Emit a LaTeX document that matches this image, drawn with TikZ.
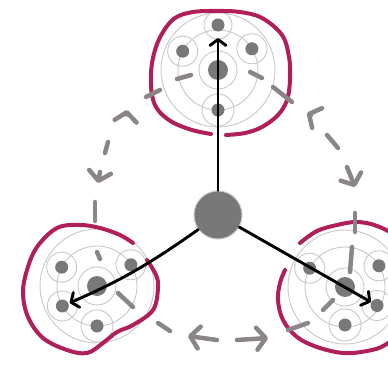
\documentclass[tikz,border=0pt]{standalone}
\usetikzlibrary{arrows.meta,calc}
\definecolor{BlobClr}{rgb}{0.69,0.12,0.35}
\definecolor{FlowClr}{rgb}{0.54,0.52,0.53}
\definecolor{RingClr}{rgb}{0.78,0.78,0.78}
\definecolor{DotClr}{rgb}{0.47,0.47,0.47}

\begin{document}
\begin{tikzpicture}[x=1pt,y=1pt,
  ring/.style={RingClr,line width=0.9pt},
  dot/.style={circle,fill=DotClr,inner sep=0pt,minimum size=13pt},
  core/.style={circle,fill=DotClr,inner sep=0pt,minimum size=20pt},
  hub/.style={circle,fill=DotClr,draw=RingClr,line width=1pt,inner sep=0pt,minimum size=48pt},
  blob/.style={BlobClr,line width=4pt,line cap=round,line join=round},
  flow/.style={FlowClr,line width=4.5pt,line cap=round},
  flowtip/.style={flow,-{Straight Barb[length=9pt,width=22pt,round]}},
  link/.style={line width=2.9pt,line cap=round,-{Straight Barb[length=6pt,width=16pt,round]}}]
\useasboundingbox (0,0) rectangle (388,372);

\coordinate (T) at (218,302);
\coordinate (L) at (97,86);
\coordinate (R) at (345,85);

\coordinate (T1) at ($(T)+(152:40)$);
\coordinate (T2) at ($(T)+(32:40)$);
\coordinate (T3) at ($(T)+(-90:40)$);
\coordinate (T4) at ($(T)+(90:45)$);
\coordinate (L1) at ($(L)+(152:40)$);
\coordinate (L2) at ($(L)+(32:40)$);
\coordinate (L3) at ($(L)+(-90:40)$);
\coordinate (L4) at ($(L)+(210:40)$);
\coordinate (R1) at ($(R)+(152:40)$);
\coordinate (R2) at ($(R)+(32:40)$);
\coordinate (R3) at ($(R)+(-90:38)$);
\coordinate (R4) at ($(R)+(330:37)$);

% rings
\draw[ring] (T) circle (57pt) (T) circle (40pt) (T) circle (19pt);
\draw[ring] (T1) circle (15pt) (T2) circle (15pt) (T3) circle (16pt) (T4) circle (14pt);
\draw[ring] (L) circle (57pt) (L) circle (40pt) (L) circle (19pt);
\draw[ring] (L1) circle (15pt) (L2) circle (15pt) (L3) circle (16pt) (L4) circle (15pt);
\draw[ring] (R) circle (57pt) (R) circle (40pt) (R) circle (19pt);
\draw[ring] (R1) circle (15pt) (R2) circle (15pt) (R3) circle (16pt) (R4) circle (15pt);

% dots
\node[core] at (T) {};
\node[core] at (L) {};
\node[core] at (R) {};
\node[dot] at (T1) {};
\node[dot] at (T2) {};
\node[dot] at (T3) {};
\node[dot] at (T4) {};
\node[dot] at (L1) {};
\node[dot] at (L2) {};
\node[dot] at (L3) {};
\node[dot] at (L4) {};
\node[dot] at (R1) {};
\node[dot] at (R2) {};
\node[dot] at (R3) {};
\node[dot] at (R4) {};

% outlines
\draw[blob] plot[smooth,tension=0.6] coordinates {(226,237) (245,239) (262,245) (278,257) (287,272) (290,292) (289,315) (282,337) (262,354) (240,360) (217,361) (193,360) (175,354) (163,340) (155,322) (151,300) (152,277) (158,262) (172,250) (192,242) (211,238)};
\draw[blob] plot[smooth,tension=0.6] coordinates {(147,112) (156,97) (158,84) (153,62) (133,47) (117,40) (103,29) (87,19) (67,22) (43,34) (28,55) (23,79) (27,102) (37,125) (57,144) (80,147) (100,144) (120,137) (133,129)};
\draw[blob] plot[smooth,tension=0.6] coordinates {(300,129) (317,141) (337,147) (357,150) (377,146) (395,135) (405,110) (406,75) (400,42) (385,27) (367,21) (343,19) (317,25) (297,35) (283,52) (278,72) (280,89) (285,102)};

% exchange between T and L
\draw[flow] (146,275) -- (160,282);
\draw[flowtip] (126.5,258) -- (127,262);
\draw[flow] (105,219) -- (108,230);
\draw[flowtip] (100,200) -- (98,189);
\draw[flow] (95,170) -- (95,151);
% exchange between T and R
\draw[flow] (273,285) -- (292,270);
\draw[flowtip] (311,257) -- (307,259);
\draw[flow] (327,237) -- (338,224);
\draw[flowtip] (347,205) -- (355,185);
\draw[flow] (355,159) -- (355,140);
% exchange between L and R
\draw[flow] (158,49) -- (170,41);
\draw[flowtip] (217,32) -- (188,36);
\draw[flowtip] (237,32) -- (268,34);
\draw[flow] (288,42) -- (308,49);
% inside the clusters
\draw[flow] (177,293) -- (191,297);
\draw[flow] (250,300) -- (262,294);
\draw[flow] (97,120) -- (100,113);
\draw[flow] (118,79) -- (133,65);
\draw[flow] (352,125) -- (350,100);
\draw[flow] (333,72) -- (323,62);

% hub and links
\node[hub] (H) at (218,157) {};
\draw[link,shorten >=13pt] (H) -- (T4);
\draw[link,shorten >=8pt] (H) to[bend left=6] (L4);
\draw[link,shorten >=7pt] (H) -- (R4);

\end{tikzpicture}
\end{document}
